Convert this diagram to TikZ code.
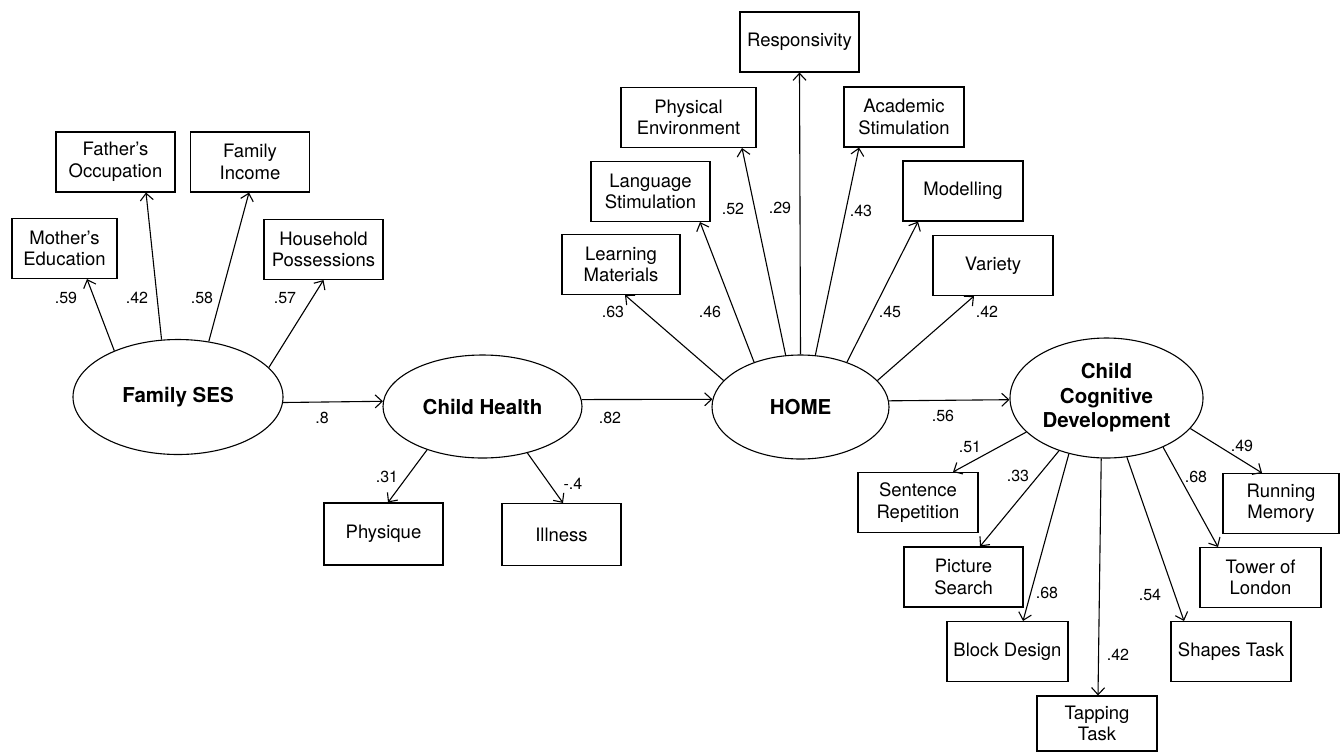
\documentclass[tikz,border=0pt]{standalone}
\usepackage{fontspec}
\setmainfont{TeX Gyre Heros}
\usetikzlibrary{shapes.geometric}
\usetikzlibrary{arrows.meta}

\tikzset{
  obs/.style={draw, rectangle, line width=1.1pt, minimum width=119pt, minimum height=60pt,
    inner sep=0pt, align=center, font=\fontsize{18.5}{21.5}\selectfont},
  lat/.style={draw, ellipse, line width=1.1pt, inner sep=0pt, align=center,
    font=\fontsize{20.5}{24.5}\selectfont\bfseries},
  coef/.style={inner sep=0pt, font=\fontsize{16}{19}\selectfont},
  ldg/.style={->, line width=1.1pt},
  >={Straight Barb[length=7pt,width=13pt]}
}

\begin{document}
\begin{tikzpicture}[x=1pt,y=-1pt]
            \useasboundingbox (0,0) rectangle (1343,753);

            % Latent variables
            \node[lat, minimum width=210pt, minimum height=115pt] (ses) at (178,397) {Family SES};
            \node[lat, minimum width=199pt, minimum height=103pt] (health) at (482.5,406.5) {Child Health};
            \node[lat, minimum width=177pt, minimum height=104pt] (home) at (800.5,407) {HOME};
            \node[lat, minimum width=193pt, minimum height=120pt] (ccd) at (1106.5,398) {Child\\Cognitive\\Development};

            % Family SES indicators
            \node[obs, minimum width=105pt] (medu) at (64.5,248.5) {Mother's\\Education};
            \node[obs] (focc) at (115.5,162) {Father's\\Occupation};
            \node[obs] (finc) at (250,162) {Family\\Income};
            \node[obs] (hpos) at (323.5,249.5) {Household\\Possessions};

            \draw[ldg] (ses.144) -- ([xshift=22.5pt]medu.south);
            \draw[ldg] (ses.106) -- ([xshift=30.5pt]focc.south);
            \draw[ldg] (ses.61) -- ([xshift=-1pt]finc.south);
            \draw[ldg] (ses.18) -- (hpos.south);

            \node[coef] (c1) at (66,298) {.59};
            \node[coef] (c2) at (137,298) {.42};
            \node[coef] (c3) at (202,298) {.58};
            \node[coef] (c4) at (285,298) {.57};

            % Child health indicators
            \node[obs, minimum height=62pt] (phys) at (383.5,534) {Physique};
            \node[obs, minimum height=62pt] (ill) at (561.5,534.5) {Illness};

            \draw[ldg] (health.218) -- ([xshift=4.5pt]phys.north);
            \draw[ldg] (health.314) -- ([xshift=1.5pt]ill.north);

            \node[coef] (c5) at (387,477) {.31};
            \node[coef] (c6) at (573,484) {-.4};

            % HOME indicators
            \node[obs, minimum width=118pt] (learn) at (621,264.5) {Learning\\Materials};
            \node[obs] (lang) at (650.5,191.5) {Language\\Stimulation};
            \node[obs, minimum width=135pt] (physenv) at (688.5,117.5) {Physical\\Environment};
            \node[obs] (resp) at (799.5,42) {Responsivity};
            \node[obs, minimum width=120pt] (acad) at (904,117) {Academic\\Stimulation};
            \node[obs, minimum width=120pt] (model) at (963,191) {Modelling};
            \node[obs, minimum width=120pt] (variety) at (993,265.5) {Variety};

            \draw[ldg] (home.161) -- ([xshift=4pt]learn.south);
            \draw[ldg] (home.136) -- ([xshift=49.5pt]lang.south);
            \draw[ldg] (home.106) -- ([xshift=53.5pt]physenv.south);
            \draw[ldg] (home.90) -- (resp.south);
            \draw[ldg] (home.74) -- ([xshift=-45pt]acad.south);
            \draw[ldg] (home.44) -- ([xshift=-45pt]model.south);
            \draw[ldg] (home.19) -- ([xshift=-19pt]variety.south);

            \node[coef] (c7) at (613,312) {.63};
            \node[coef] (c8) at (710,312) {.46};
            \node[coef] (c9) at (733,209) {.52};
            \node[coef] (c10) at (780,208) {.29};
            \node[coef] (c11) at (861,211) {.43};
            \node[coef] (c12) at (890,312) {.45};
            \node[coef] (c13) at (987,312) {.42};

            % Cognitive development indicators
            \node[obs, minimum width=120pt] (sent) at (918,502.5) {Sentence\\Repetition};
            \node[obs] (pic) at (963.5,577) {Picture\\Search};
            \node[obs, minimum width=121pt] (block) at (1007.5,651.5) {Block Design};
            \node[obs, minimum width=120pt, minimum height=55pt] (tap) at (1097,723.5) {Tapping\\Task};
            \node[obs, minimum width=120pt] (shapes) at (1231,651.5) {Shapes Task};
            \node[obs, minimum width=121pt] (tower) at (1260.5,577.5) {Tower of\\London};
            \node[obs, minimum width=116pt] (run) at (1281,503.5) {Running\\Memory};

            \draw[ldg] (ccd.203) -- ([xshift=35pt]sent.north);
            \draw[ldg] (ccd.228) -- ([xshift=16.5pt]pic.north);
            \draw[ldg] (ccd.236) -- ([xshift=15.5pt]block.north);
            \draw[ldg] (ccd.265) -- ([xshift=1pt]tap.north);
            \draw[ldg] (ccd.289) -- ([xshift=-47pt]shapes.north);
            \draw[ldg] (ccd.319) -- ([xshift=-42.5pt]tower.north);
            \draw[ldg] (ccd.340) -- ([xshift=-19pt]run.north);

            \node[coef] (c14) at (970,447) {.51};
            \node[coef] (c15) at (1018,476) {.33};
            \node[coef] (c16) at (1047,593) {.68};
            \node[coef] (c17) at (1118,655) {.42};
            \node[coef] (c18) at (1150,595) {.54};
            \node[coef] (c19) at (1196,477) {.68};
            \node[coef] (c20) at (1242,446) {.49};

            % Structural paths
            \draw[ldg] (ses.-3) -- (health.177);
            \draw[ldg] (health.4) -- (home.175);
            \draw[ldg] (home.4) -- (ccd.181);

            \node[coef] (c21) at (322,418) {.8};
            \node[coef] (c22) at (610,418) {.82};
            \node[coef] (c23) at (943,416) {.56};
        \end{tikzpicture}
\end{document}
